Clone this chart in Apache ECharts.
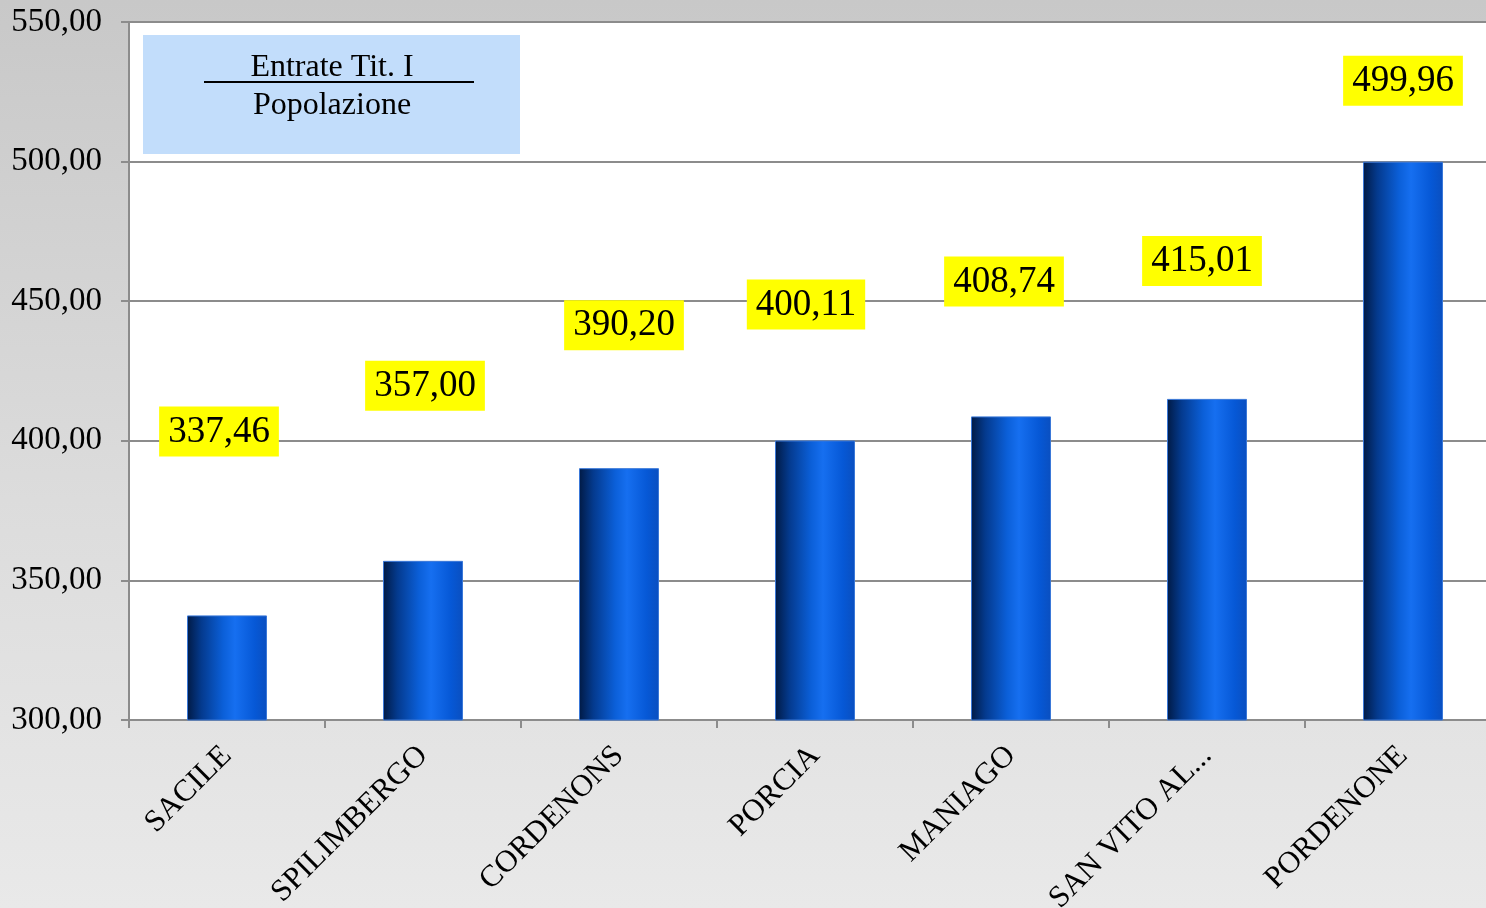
<!DOCTYPE html>
<html>
<head>
<meta charset="utf-8">
<script src="https://cdn.jsdelivr.net/npm/echarts@6/dist/echarts.min.js"></script>
<style>
html,body{margin:0;padding:0;}
#c{width:1486px;height:908px;background:linear-gradient(to bottom,#c8c8c8 0%,#dcdcdc 55%,#e9e9e9 100%);}
</style>
</head>
<body>
<div id="c"></div>
<script>
// ---- data ----
const categories = ['SACILE','SPILIMBERGO','CORDENONS','PORCIA','MANIAGO','SAN VITO AL...','PORDENONE'];
const values = [337.46, 357.00, 390.20, 400.11, 408.74, 415.01, 499.96];
const yTicks = { min: 300, max: 550, interval: 50 };
const boxLine1 = 'Entrate Tit. I';
const boxLine2 = 'Popolazione';

// ---- styles (label offsets as in the reference, pixels) ----
const labelShift = [[-8,-154],[2,-145],[5,-113],[-9,-106],[-7,-105],[-5,-108],[0,-51]];

const fmt = v => v.toFixed(2).replace('.', ',');
const serif = '"Liberation Serif","Times New Roman",serif';

const chart = echarts.init(document.getElementById('c'), null, {renderer:'canvas'});
const barColor = new echarts.graphic.LinearGradient(0,0,1,0,[
  {offset:0, color:'#011a44'},
  {offset:0.18, color:'#043a8e'},
  {offset:0.45, color:'#0b5fd8'},
  {offset:0.6, color:'#166ff0'},
  {offset:0.85, color:'#0658d6'},
  {offset:1, color:'#0a4fc0'}
]);

chart.setOption({
  animation:false,
  grid:{left:129, width:1372, top:22, height:698, containLabel:false, outerBoundsMode:'none',
        show:true, backgroundColor:'#ffffff', borderWidth:0},
  xAxis:{
    type:'category', data:categories, boundaryGap:true,
    axisLine:{show:true, lineStyle:{color:'#8c8c8c', width:2}},
    axisTick:{show:true, length:8, lineStyle:{color:'#8c8c8c', width:2}},
    axisLabel:{rotate:45, margin:31, color:'#000', fontFamily:serif, fontSize:31, interval:0}
  },
  yAxis:{
    type:'value', min:yTicks.min, max:yTicks.max, interval:yTicks.interval,
    axisLine:{show:true, lineStyle:{color:'#8c8c8c', width:2}},
    axisTick:{show:true, length:8, lineStyle:{color:'#8c8c8c', width:2}},
    splitLine:{show:true, lineStyle:{color:'#8c8c8c', width:2}},
    axisLabel:{formatter:fmt, color:'#000', fontFamily:serif, fontSize:33, margin:27, padding:[4,0,0,0]}
  },
  series:[{
    type:'bar', barWidth:80,
    data: values.map((v,i)=>({value:v, label:{offset:labelShift[i]}})),
    itemStyle:{color:barColor, borderColor:'#3a78d8', borderWidth:1},
    label:{
      show:true, position:'top', distance:5,
      formatter:p=>fmt(p.value),
      color:'#000', fontFamily:serif, fontSize:37,
      backgroundColor:'#ffff00', padding:[7,9,6,9]
    }
  }],
  graphic:[
    {type:'rect', left:143, top:35, shape:{width:377, height:119}, style:{fill:'#c2ddfb'}, z:10},
    {type:'text', x:332, y:68, style:{text:boxLine1, font:'32px '+serif, fill:'#000', textAlign:'center', textVerticalAlign:'middle'}, z:11},
    {type:'line', shape:{x1:204, y1:82, x2:474, y2:82}, style:{stroke:'#000', lineWidth:2}, z:11},
    {type:'text', x:332, y:106, style:{text:boxLine2, font:'32px '+serif, fill:'#000', textAlign:'center', textVerticalAlign:'middle'}, z:11}
  ]
});
</script>
</body>
</html>
